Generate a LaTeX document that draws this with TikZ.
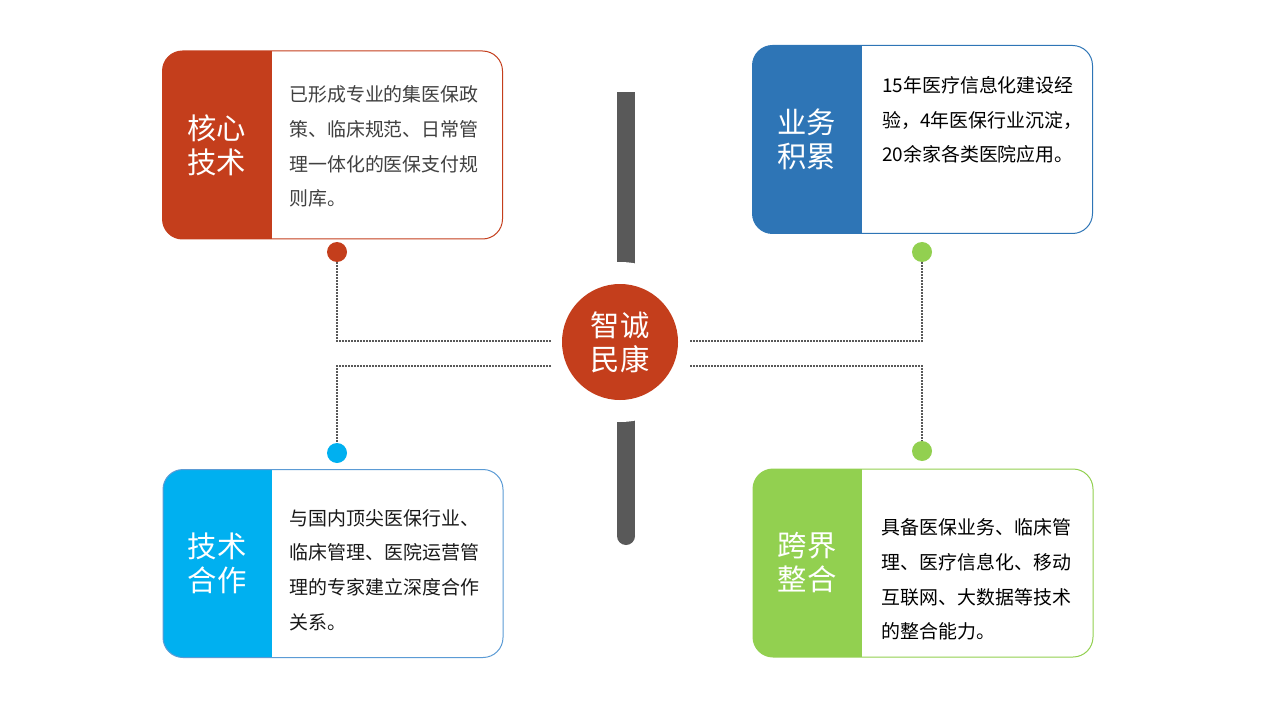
\documentclass[tikz,border=0pt]{standalone}
\usepackage{fontspec}
\setmainfont{Noto Sans CJK SC}
\usepackage{tikz}
\usetikzlibrary{shapes.geometric, positioning}
\definecolor{rust}{HTML}{C43E1C}
\definecolor{ocean}{HTML}{2E75B6}
\definecolor{sky}{HTML}{00B0F0}
\definecolor{lime}{HTML}{92D050}
\definecolor{slate}{HTML}{595959}
\definecolor{edgeblue}{HTML}{5B9BD5}
\tikzstyle{card} = [rectangle, rounded corners=15pt, minimum width=255pt, minimum height=141pt, fill=white, line width=0.75pt]
\tikzset{panel/.style={path picture={\fill[#1, sharp corners] (path picture bounding box.north west) rectangle ([xshift=81.75pt]path picture bounding box.south west);}}}
\tikzstyle{title} = [align=center, text=white, inner sep=0pt, font=\fontsize{22}{25.5}\selectfont]
\tikzstyle{body} = [align=left, anchor=north west, inner sep=0pt, font=\fontsize{14.2}{26}\selectfont]
\tikzstyle{dot} = [circle, minimum size=15pt, inner sep=0pt]
\tikzstyle{hub} = [circle, minimum size=87pt, inner sep=0pt, fill=rust, text=white, align=center, font=\fontsize{22}{25.5}\selectfont]
\tikzstyle{link} = [draw=slate, line width=1.2pt, dash pattern=on 1.2pt off 1.05pt]

\begin{document}
\begin{tikzpicture}[x=0.75pt, y=-0.75pt]
\useasboundingbox (0,0) rectangle (1280,720);

\fill [slate] (617,92) rectangle (635,536);
\fill [slate] (626,536) circle [radius=6.75pt];
\fill [white] (620,342) circle [radius=60pt];

\node (0) [hub] at (620,342) {智诚\\民康};

\node (1a) [card, draw=rust, panel=rust] at (332.5,145) {};
\node (1b) [title] at ([xshift=40.9pt]1a.west) {核心\\技术};
\node (1c) [body, text=black!75] at ([xshift=95.25pt, yshift=-26.25pt]1a.north west) {已形成专业的集医保政\\策、临床规范、日常管\\理一体化的医保支付规\\则库。};

\node (2a) [card, draw=ocean, panel=ocean] at (922.5,139.5) {};
\node (2b) [title] at ([xshift=40.9pt]2a.west) {业务\\积累};
\node (2c) [body, text=black] at ([xshift=97.5pt, yshift=-23.25pt]2a.north west) {15年医疗信息化建设经\\验，4年医保行业沉淀，\\20余家各类医院应用。};

\node (3a) [card, draw=edgeblue, panel=sky] at (333,563.5) {};
\node (3b) [title] at ([xshift=40.9pt]3a.west) {技术\\合作};
\node (3c) [body, text=black!90] at ([xshift=95.25pt, yshift=-30pt]3a.north west) {与国内顶尖医保行业、\\临床管理、医院运营管\\理的专家建立深度合作\\关系。};

\node (4a) [card, draw=lime, panel=lime] at (923,563) {};
\node (4b) [title] at ([xshift=40.9pt]4a.west) {跨界\\整合};
\node (4c) [body, text=black] at ([xshift=96.75pt, yshift=-37.5pt]4a.north west) {具备医保业务、临床管\\理、医疗信息化、移动\\互联网、大数据等技术\\的整合能力。};

\node (1d) [dot, fill=rust] at (337,252) {};
\node (2d) [dot, fill=lime] at (922,252) {};
\node (3d) [dot, fill=sky] at (337,453) {};
\node (4d) [dot, fill=lime] at (922,451) {};

\coordinate (1e) at (551,341);
\coordinate (2e) at (690,341);
\coordinate (3e) at (551,366);
\coordinate (4e) at (690,366);

\draw [link] (1d) |- (1e);

\draw [link] (2d) |- (2e);

\draw [link] (3e) -| (3d);

\draw [link] (4e) -| (4d);

\end{tikzpicture}
\end{document}
